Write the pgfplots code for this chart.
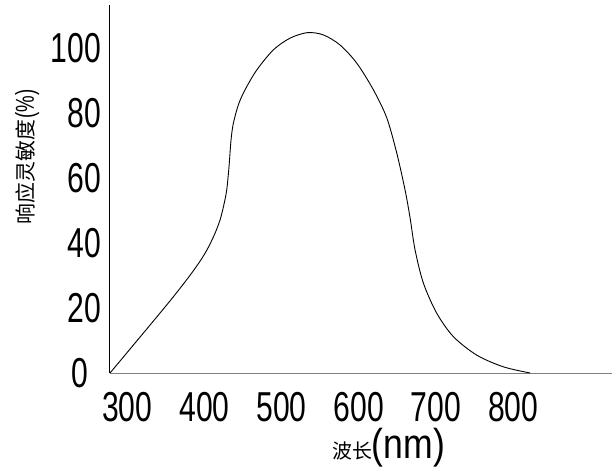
\documentclass[border=0pt]{standalone}
\usepackage{fontspec}
\usepackage{pgfplots}
\pgfplotsset{compat=1.18}
\setmainfont{Liberation Sans}
\newfontfamily\cadfont[FakeStretch=0.72]{Liberation Sans}
\newfontfamily\cadwide[FakeStretch=0.85]{Liberation Sans}
\newfontfamily\cjk{Noto Sans CJK SC}

\begin{document}
\begin{tikzpicture}
\begin{axis}[
    scale only axis,
    width=502bp, height=368bp,
    xmin=277.8, xmax=927.7,
    ymin=0, ymax=113.2,
    axis x line=bottom, axis y line=left,
    axis line style={-, line width=1bp},
    x axis line style={gray},
    xtick={300,400,500,600,700,800},
    ytick={0,20,40,60,80,100},
    yticklabels={0\hspace*{13bp},20,40,60,80,100},
    major tick length=0pt,
    /pgf/number format/assume math mode=true,
    tick label style={font=\cadfont\fontsize{42}{42}\selectfont, inner sep=0pt},
    xticklabel style={anchor=north, yshift=-19bp},
    yticklabel style={anchor=east, xshift=-9bp},
    clip=false,
]
\addplot[black, line width=0.9bp, smooth] coordinates {
    (277.8,0)(300,6.3)(320,12.0)(340,17.7)(360,23.5)(380,29.6)(395,34.6)
    (405,38.6)(413.8,43.0)(420.3,47.1)(425.0,51.5)(428.9,56.3)(431.9,63.5)
    (434.5,71.7)(437.5,76.8)(444.0,82.5)
    (452.6,87.1)(467.8,93.2)(489.3,99.4)(510.9,103.0)(533.3,104.7)(554.0,104.0)
    (575.6,100.9)(597.3,95.3)(618.8,87.1)(636.1,78.5)(649.1,67.6)(659.8,56.3)
    (666.3,47.7)(672.8,37.8)(683.6,27.6)(700.8,18.4)(722.3,11.2)(752.6,5.5)
    (787.1,1.9)(821.7,0)
};
\node at (axis description cs:0.555,-0.204)
    {{\cjk\fontsize{20}{20}\selectfont 波长}{\cadwide\fontsize{42}{42}\selectfont (nm)}};
\node[rotate=90] at (axis description cs:-0.165,0.587)
    {{\cjk\fontsize{21}{21}\selectfont 响应灵敏度}\,{\cadfont\fontsize{26}{26}\selectfont (\%)}};
\coordinate (ll) at (axis description cs:-0.2191,-0.2663);
\coordinate (ur) at (axis description cs:1.00398,1.01359);
\end{axis}
\pgfresetboundingbox
\path (ll) rectangle (ur);
\end{tikzpicture}
\end{document}
